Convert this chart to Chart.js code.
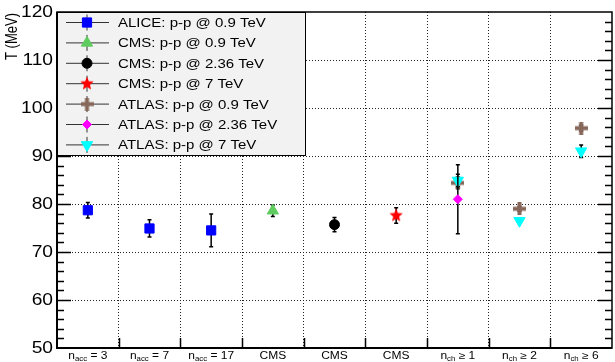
<!DOCTYPE html>
<html>
<head>
<meta charset="utf-8">
<script src="https://cdn.jsdelivr.net/npm/chart.js@4.4.1/dist/chart.umd.min.js"></script>
<style>
  html, body { margin: 0; padding: 0; background: #fff; overflow: hidden; }
  #wrap { width: 615px; height: 362px; overflow: hidden; }
  canvas { display: block; }
</style>
</head>
<body>
<div id="wrap"><canvas id="chart" width="620" height="362" style="width:620px;height:362px"></canvas></div>
<script>
// bins along the x axis (sub-script written after "_")
const categories = ['n_acc = 3', 'n_acc = 7', 'n_acc = 17', 'CMS', 'CMS', 'CMS', 'n_ch ≥ 1', 'n_ch ≥ 2', 'n_ch ≥ 6'];

// temperature axis
const yMin = 50;
const yMax = 120;
const yStep = 10;
const yTitle = 'T (MeV)';

// series: bin index, T value, error
const aliceBins = [0, 1, 2];
const aliceT = [78.7, 74.9, 74.5];
const aliceErr = [1.6, 1.8, 3.4];

const cms09Bins = [3];
const cms09T = [78.6];
const cms09Err = [1.2];

const cms236Bins = [4];
const cms236T = [75.7];
const cms236Err = [1.5];

const cms7Bins = [5];
const cms7T = [77.6];
const cms7Err = [1.6];

const atlas09Bins = [6, 7, 8];
const atlas09T = [84.4, 79.0, 95.8];
const atlas09Err = [1.2, 0.5, 0.6];

const atlas236Bins = [6];
const atlas236T = [81.0];
const atlas236Err = [7.2];

const atlas7Bins = [6, 7, 8];
const atlas7T = [84.9, 76.5, 91.0];
const atlas7Err = [1.3, 0.4, 1.3];

const FONT = "'Liberation Sans', Arial, sans-serif";
const SX = 1.2; // horizontal text stretch

function starImage(color, r) {
  const s = Math.ceil(r * 2) + 2;
  const c = document.createElement('canvas');
  c.width = c.height = s;
  const g = c.getContext('2d');
  g.fillStyle = color;
  g.beginPath();
  for (let k = 0; k < 10; k++) {
    const rr = k % 2 ? r * 0.45 : r;
    const a = -Math.PI / 2 + k * Math.PI / 5;
    g.lineTo(s / 2 + rr * Math.cos(a), s / 2 + rr * Math.sin(a));
  }
  g.closePath();
  g.fill();
  return c;
}

function plusImage(color, size, thick) {
  const c = document.createElement('canvas');
  c.width = c.height = size;
  const g = c.getContext('2d');
  g.fillStyle = color;
  const o = (size - thick) / 2;
  g.fillRect(o, 0, thick, size);
  g.fillRect(0, o, size, thick);
  return c;
}

function series(label, bins, vals, errs, style) {
  return Object.assign({
    label: label,
    data: bins.map((b, i) => ({ x: b + 0.5, y: vals[i] })),
    err: errs,
    showLine: false,
    borderWidth: 1
  }, style);
}

const datasets = [
  series('ALICE: p-p @ 0.9 TeV', aliceBins, aliceT, aliceErr,
    { pointStyle: 'rect', pointRadius: 6.5, backgroundColor: '#0000ff', borderColor: '#0000ff', order: 7 }),
  series('CMS: p-p @ 0.9 TeV', cms09Bins, cms09T, cms09Err,
    { pointStyle: 'triangle', pointRadius: 6.5, backgroundColor: '#5fcc5f', borderColor: '#5fcc5f', order: 6 }),
  series('CMS: p-p @ 2.36 TeV', cms236Bins, cms236T, cms236Err,
    { pointStyle: 'circle', pointRadius: 5, backgroundColor: '#000000', borderColor: '#000000', order: 5 }),
  series('CMS: p-p @ 7 TeV', cms7Bins, cms7T, cms7Err,
    { pointStyle: starImage('#ff0000', 7), pointRadius: 7, backgroundColor: '#ff0000', borderColor: '#ff0000', order: 4 }),
  series('ATLAS: p-p @ 0.9 TeV', atlas09Bins, atlas09T, atlas09Err,
    { pointStyle: plusImage('#86675a', 13, 4), pointRadius: 7, backgroundColor: '#86675a', borderColor: '#86675a', order: 3 }),
  series('ATLAS: p-p @ 2.36 TeV', atlas236Bins, atlas236T, atlas236Err,
    { pointStyle: 'rectRot', pointRadius: 4.5, backgroundColor: '#ff00ff', borderColor: '#ff00ff', order: 1 }),
  series('ATLAS: p-p @ 7 TeV', atlas7Bins, atlas7T, atlas7Err,
    { pointStyle: 'triangle', pointRotation: 180, pointRadius: 6.5, backgroundColor: '#00ffff', borderColor: '#00ffff', order: 2 })
];

function stretched(ctx, text, x, y, align) {
  ctx.save();
  ctx.translate(x, y);
  ctx.scale(SX, 1);
  ctx.textAlign = align;
  ctx.fillText(text, 0, 0);
  ctx.restore();
}

// error bars go under each series' own markers
const errorBars = {
  id: 'errorBars',
  beforeDatasetDraw(chart, args) {
    const ds = chart.data.datasets[args.index];
    const y = chart.scales.y;
    const ctx = chart.ctx;
    ctx.save();
    ctx.strokeStyle = '#000';
    ctx.lineWidth = 1.5;
    args.meta.data.forEach((pt, i) => {
      const v = ds.data[i].y;
      const e = ds.err[i];
      const top = y.getPixelForValue(v + e);
      const bot = y.getPixelForValue(v - e);
      const x = pt.x;
      ctx.beginPath();
      ctx.moveTo(x, top); ctx.lineTo(x, bot);
      ctx.moveTo(x - 2, top); ctx.lineTo(x + 2, top);
      ctx.moveTo(x - 2, bot); ctx.lineTo(x + 2, bot);
      ctx.stroke();
    });
    ctx.restore();
  }
};

// frame, inside ticks, legend box and all axis text
const decorations = {
  id: 'decorations',
  afterDatasetsDraw(chart) {
    const ctx = chart.ctx;
    const a = chart.chartArea;
    const xs = chart.scales.x;
    const ys = chart.scales.y;
    ctx.save();

    // ticks inside the frame
    ctx.strokeStyle = '#000';
    ctx.lineWidth = 1.5;
    ctx.beginPath();
    for (let v = yMin + 2; v < yMax; v += 2) {
      const py = Math.round(ys.getPixelForValue(v)) + 0.5;
      const len = v % yStep === 0 ? 14 : 7;
      ctx.moveTo(a.left, py); ctx.lineTo(a.left + len, py);
      ctx.moveTo(a.right, py); ctx.lineTo(a.right - len, py);
    }
    for (let i = 1; i < categories.length; i++) {
      const px = Math.round(xs.getPixelForValue(i)) + 0.5;
      ctx.moveTo(px, a.bottom); ctx.lineTo(px, a.bottom - 10);
    }
    ctx.stroke();

    // frame
    ctx.lineWidth = 1.5;
    ctx.strokeRect(a.left, a.top, a.right - a.left, a.bottom - a.top);
    ctx.lineWidth = 2;
    ctx.beginPath();
    ctx.moveTo(a.left, a.top); ctx.lineTo(a.left, a.bottom + 1);
    ctx.moveTo(a.left - 1, a.bottom); ctx.lineTo(a.right, a.bottom);
    ctx.stroke();

    // legend
    const lx = a.left, ly = a.top, lw = 248, lh = 143;
    ctx.fillStyle = '#f2f2f2';
    ctx.fillRect(lx, ly, lw, lh);
    ctx.lineWidth = 1;
    ctx.strokeStyle = '#000';
    ctx.strokeRect(lx + 0.5, ly + 0.5, lw, lh);
    datasets.forEach((ds, i) => {
      const ry = ly + 10.5 + i * 20.4;
      const mx = lx + 30;
      ctx.strokeStyle = '#333';
      ctx.lineWidth = 1;
      ctx.beginPath();
      ctx.moveTo(lx + 9, ry); ctx.lineTo(lx + 52, ry);
      ctx.moveTo(mx, ry - 8); ctx.lineTo(mx, ry + 8);
      ctx.stroke();
      ctx.fillStyle = ds.backgroundColor;
      ctx.strokeStyle = ds.borderColor;
      Chart.helpers.drawPoint(ctx, {
        pointStyle: ds.pointStyle,
        radius: ds.pointRadius,
        rotation: ds.pointRotation || 0,
        borderWidth: 1
      }, mx, ry);
      ctx.fillStyle = '#000';
      ctx.font = '12.5px ' + FONT;
      ctx.textBaseline = 'middle';
      stretched(ctx, ds.label, lx + 61, ry + 1, 'left');
    });

    // y tick labels
    ctx.fillStyle = '#000';
    ctx.font = '16px ' + FONT;
    ctx.textBaseline = 'middle';
    ys.ticks.forEach(t => {
      stretched(ctx, String(t.value), a.left - 4, ys.getPixelForValue(t.value) + 1, 'right');
    });

    // y title
    ctx.save();
    ctx.translate(13, a.top + 1);
    ctx.rotate(-Math.PI / 2);
    ctx.scale(1, SX);
    ctx.font = '13px ' + FONT;
    ctx.textAlign = 'right';
    ctx.textBaseline = 'middle';
    ctx.fillText(yTitle, 0, 0);
    ctx.restore();

    // x bin labels with sub-scripts
    ctx.textBaseline = 'alphabetic';
    ctx.textAlign = 'left';
    const base = a.bottom + 11;
    categories.forEach((lab, i) => {
      const m = lab.match(/^(\w)_(\w+)(.*)$/);
      const parts = m ? [[m[1], 10, 0], [m[2], 6.5, 2], [m[3], 10, 0]] : [[lab, 10, 0]];
      let w = 0;
      parts.forEach(p => { ctx.font = p[1] + 'px ' + FONT; w += ctx.measureText(p[0]).width * SX; });
      let px = xs.getPixelForValue(i + 0.5) - w / 2;
      parts.forEach(p => {
        ctx.font = p[1] + 'px ' + FONT;
        stretched(ctx, p[0], px, base + p[2], 'left');
        px += ctx.measureText(p[0]).width * SX;
      });
    });

    ctx.restore();
  }
};

new Chart(document.getElementById('chart'), {
  type: 'scatter',
  data: { datasets: datasets },
  options: {
    responsive: false,
    animation: false,
    layout: { padding: { top: 12, right: 3, left: 0, bottom: 0 } },
    plugins: { legend: { display: false }, tooltip: { enabled: false } },
    scales: {
      x: {
        type: 'linear',
        min: 0,
        max: categories.length,
        ticks: { display: false, stepSize: 1 },
        border: { display: false, dash: [1, 2] },
        grid: {
          drawTicks: false,
          color: c => (c.tick.value <= 0 || c.tick.value >= categories.length) ? 'rgba(0,0,0,0)' : '#222',
          lineWidth: 1
        },
        afterFit: s => { s.height = 14; }
      },
      y: {
        min: yMin,
        max: yMax,
        ticks: { display: false, stepSize: yStep },
        border: { display: false, dash: [1, 2] },
        grid: {
          drawTicks: false,
          color: c => (c.tick.value <= yMin || c.tick.value >= yMax) ? 'rgba(0,0,0,0)' : '#222',
          lineWidth: 1
        },
        afterFit: s => { s.width = 57; }
      }
    }
  },
  plugins: [errorBars, decorations]
});
</script>
</body>
</html>
